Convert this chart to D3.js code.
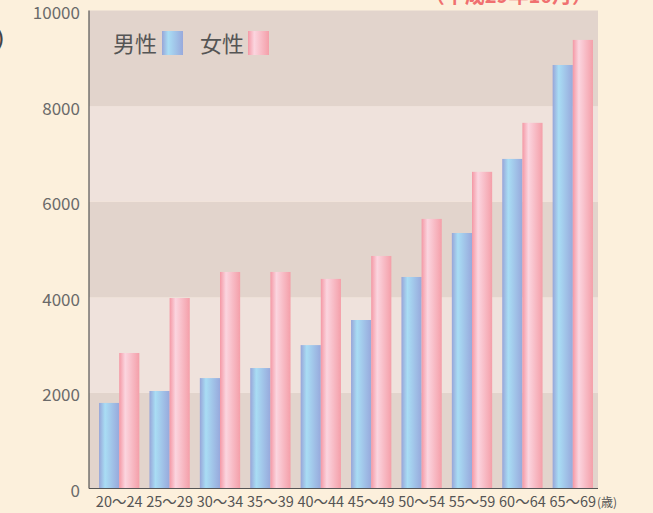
<!DOCTYPE html>
<html>
<head>
<meta charset="utf-8">
<script src="https://cdn.jsdelivr.net/npm/d3@7"></script>
<style>
body { margin: 0; background: #fcf0dc; }
svg { display: block; font-family: "Noto Sans CJK JP", "Noto Sans", sans-serif; }
</style>
</head>
<body>
<div id="chart"></div>
<script>
var ages = ["20～24", "25～29", "30～34", "35～39", "40～44", "45～49", "50～54", "55～59", "60～64", "65～69"];
var male = [1790, 2040, 2310, 2520, 3000, 3525, 4425, 5345, 6895, 8860];
var female = [2835, 3985, 4530, 4530, 4385, 4865, 5640, 6625, 7650, 9385];
var yTicks = [0, 2000, 4000, 6000, 8000, 10000];
var seriesNames = ["男性", "女性"];

var width = 653, height = 513;
var plotL = 89, plotR = 598, plotT = 10.5, plotB = 488.5;

var svg = d3.select("#chart").append("svg")
    .attr("width", width)
    .attr("height", height);

var defs = svg.append("defs");
function grad(id, stops) {
    var g = defs.append("linearGradient").attr("id", id)
        .attr("x1", "0%").attr("x2", "100%").attr("y1", "0%").attr("y2", "0%");
    stops.forEach(function (s) {
        g.append("stop").attr("offset", s[0]).attr("stop-color", s[1]);
    });
}
grad("gMale", [["0%", "#97a5d8"], ["30%", "#a9ddf4"], ["100%", "#98a9dc"]]);
grad("gFemale", [["0%", "#f498a5"], ["30%", "#fbd5df"], ["100%", "#f49fa9"]]);

var y = d3.scaleLinear().domain([0, 10000]).range([plotB, plotT]);
var x0 = d3.scaleBand().domain(ages).range([94, 598]).paddingInner(0.2).paddingOuter(0.1);
var x1 = d3.scaleBand().domain([0, 1]).range([0, x0.bandwidth()]);

// background bands
var bands = d3.range(0, 10000, 2000);
svg.append("g").selectAll("rect")
    .data(bands)
    .enter().append("rect")
    .attr("x", plotL)
    .attr("width", plotR - plotL)
    .attr("y", function (d) { return y(d + 2000); })
    .attr("height", function (d) { return y(d) - y(d + 2000); })
    .attr("fill", function (d) { return (d / 2000) % 2 === 0 ? "#e2d4cc" : "#efe2dc"; });

// bars
var groups = svg.append("g").selectAll("g")
    .data(ages)
    .enter().append("g")
    .attr("transform", function (d) { return "translate(" + x0(d) + ",0)"; });

groups.selectAll("rect")
    .data(function (d, i) { return [male[i], female[i]]; })
    .enter().append("rect")
    .attr("x", function (d, i) { return x1(i); })
    .attr("width", x1.bandwidth())
    .attr("y", function (d) { return y(d); })
    .attr("height", function (d) { return plotB - y(d); })
    .attr("fill", function (d, i) { return i === 0 ? "url(#gMale)" : "url(#gFemale)"; });

// axes lines
svg.append("line")
    .attr("x1", plotL).attr("x2", plotL)
    .attr("y1", plotT).attr("y2", plotB)
    .attr("stroke", "#555").attr("stroke-width", 1.2);
svg.append("line")
    .attr("x1", plotL).attr("x2", plotR)
    .attr("y1", plotB).attr("y2", plotB)
    .attr("stroke", "#555").attr("stroke-width", 1.2);

// y tick labels
svg.append("g").selectAll("text")
    .data(yTicks)
    .enter().append("text")
    .attr("x", 80)
    .attr("y", function (d) { return y(d); })
    .attr("dy", "0.5em")
    .attr("text-anchor", "end")
    .attr("font-size", 17)
    .attr("fill", "#6a6a6a")
    .text(function (d) { return d; });

// x labels
svg.append("g").selectAll("text")
    .data(ages)
    .enter().append("text")
    .attr("x", function (d) { return x0(d) + x0.bandwidth() / 2; })
    .attr("y", 507)
    .attr("text-anchor", "middle")
    .attr("font-size", 14.5)
    .attr("fill", "#555")
    .text(function (d) { return d; });
svg.append("text")
    .attr("x", 597)
    .attr("y", 507)
    .attr("font-size", 12)
    .attr("fill", "#555")
    .text("(歳)");

// legend
var legendX = [113, 200];
var swatchX = [162, 248];
seriesNames.forEach(function (name, i) {
    svg.append("text")
        .attr("x", legendX[i])
        .attr("y", 52)
        .attr("font-size", 22)
        .attr("fill", "#555")
        .text(name);
    svg.append("rect")
        .attr("x", swatchX[i])
        .attr("y", 31)
        .attr("width", 21)
        .attr("height", 24)
        .attr("fill", i === 0 ? "url(#gMale)" : "url(#gFemale)");
});

// cut-off title and unit label
svg.append("text")
    .attr("x", 592)
    .attr("y", 2.5)
    .attr("text-anchor", "end")
    .attr("font-size", 20)
    .attr("font-weight", "bold")
    .attr("fill", "#f07070")
    .text("（平成29年10月）");
svg.append("text")
    .attr("x", 4)
    .attr("y", 45)
    .attr("text-anchor", "end")
    .attr("font-size", 18)
    .attr("font-weight", "bold")
    .attr("fill", "#444")
    .text("(人)");
</script>
</body>
</html>
